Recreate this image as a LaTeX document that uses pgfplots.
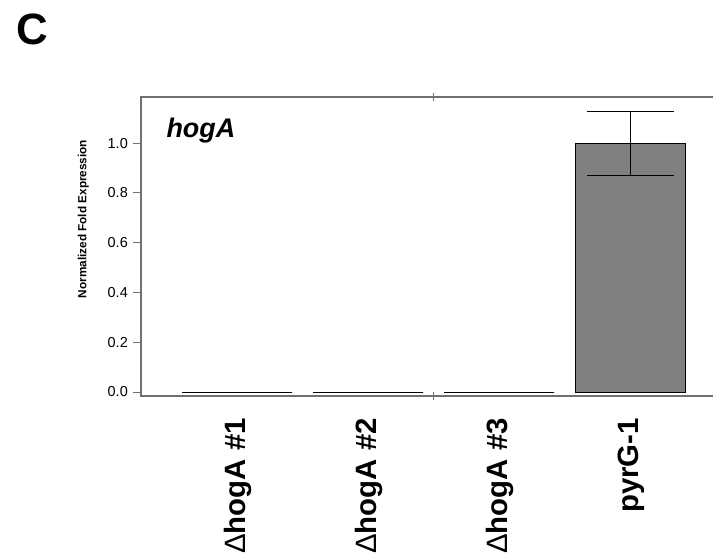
\documentclass[border=0pt]{standalone}
\usepackage{pgfplots}
\pgfplotsset{compat=1.18}
\usepackage{fontspec}
\setmainfont{Liberation Sans}
\definecolor{framegray}{HTML}{707070}
\definecolor{barfill}{HTML}{808080}
\pgfplotstableread{
x y ep em
0 0 0 0
1 0 0 0
2 0 0 0
3 1.0 0.125 0.13
}\datatable
\begin{document}
\begin{tikzpicture}
\useasboundingbox (0,0) rectangle (713bp,559bp);
\clip (0,0) rectangle (713bp,559bp);
\begin{axis}[
  at={(141bp,163bp)}, anchor=south west,
  scale only axis, width=579bp, height=299bp,
  xmin=-0.733, xmax=3.687, ymin=-0.016, ymax=1.185,
  axis line style={draw=framegray, line width=1.2bp},
  /pgf/number format/assume math mode=true,
  ytick={0,0.2,0.4,0.6,0.8,1.0},
  yticklabel style={font=\fontsize{14.5}{16}\selectfont, inner sep=0pt, xshift=-5bp,
    /pgf/number format/.cd, fixed, fixed zerofill, precision=1},
  ytick pos=left,
  ytick align=outside,
  xtick={1.5}, xticklabels={},
  xtick pos=both,
  xtick align=center,
  major tick length=8bp,
  every tick/.style={draw=framegray, line width=1bp},
  extra x ticks={0,1,2,3},
  extra x tick labels={{{\mdseries Δ}\textbf{hogA \#1}},{{\mdseries Δ}\textbf{hogA \#2}},{{\mdseries Δ}\textbf{hogA \#3}},{\textbf{pyrG-1}}},
  extra x tick style={major tick length=0pt, xtick pos=bottom,
    tick label style={rotate=90, anchor=east, inner sep=0pt, xshift=-22bp, yshift=-1bp,
      font=\fontsize{29.5}{31}\selectfont}},
  ylabel={\textbf{Normalized Fold Expression}},
  ylabel style={font=\fontsize{11.8}{13}\selectfont, at={(axis description cs:-0.084,0.592)}, anchor=south, rotate=0},
]
\addplot[ybar, bar width=110bp, fill=barfill, draw=black, line width=0.9bp,
  error bars/.cd, y dir=both, y explicit,
  error mark options={mark size=43.5bp, line width=0.9bp, black, rotate=90},
  error bar style={line width=0.9bp, black}]
  table[x=x, y=y, y error plus=ep, y error minus=em] {\datatable};
\node[anchor=base west, inner sep=0pt, font=\fontsize{27}{30}\selectfont\bfseries\itshape]
  at (axis description cs:0.0438,0.866) {hogA};
\end{axis}
\node[anchor=base west, inner sep=0pt, font=\fontsize{44}{48}\selectfont\bfseries] at (16bp,514bp) {C};
\end{tikzpicture}
\end{document}
